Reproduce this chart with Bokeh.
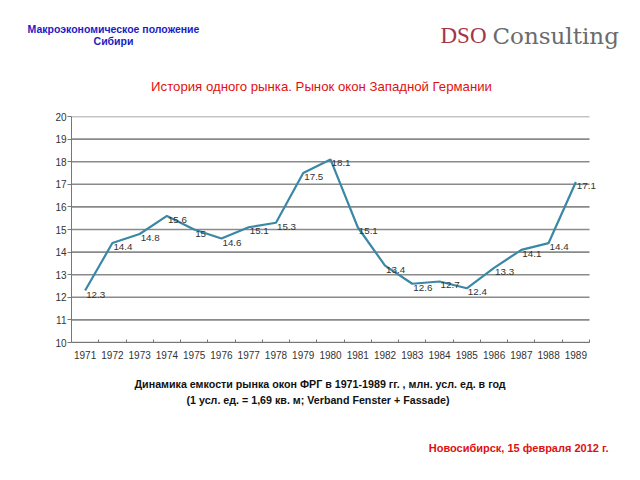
from bokeh.plotting import figure
from bokeh.layouts import column
from bokeh.models import ColumnDataSource, LabelSet, Label, FixedTicker, Range1d
from bokeh.core.properties import value
from bokeh.embed import file_html
from bokeh.resources import INLINE

years = list(range(1971, 1990))
values = [12.3, 14.4, 14.8, 15.6, 15.0, 14.6, 15.1, 15.3, 17.5, 18.1,
          15.1, 13.4, 12.6, 12.7, 12.4, 13.3, 14.1, 14.4, 17.1]
value_labels = ["12.3", "14.4", "14.8", "15.6", "15", "14.6", "15.1", "15.3", "17.5", "18.1",
                "15.1", "13.4", "12.6", "12.7", "12.4", "13.3", "14.1", "14.4", "17.1"]
y_ticks = list(range(10, 21))

W = 640
TOP_H, MAIN_H, BOT_H = 105, 260, 115


def no_align(f):
    if "frame_align" in f.properties():
        f.frame_align = False


def text_panel(h):
    f = figure(width=W, height=h, output_backend="svg", toolbar_location=None,
               x_axis_type=None, y_axis_type=None, min_border=0,
               x_range=Range1d(0, 1), y_range=Range1d(0, 1))
    f.outline_line_color = None
    f.grid.grid_line_color = None
    no_align(f)
    return f


def lab(f, text, x, y, color, size, align="left", font="Liberation Sans", style="normal"):
    f.add_layout(Label(x=x, y=y, x_units="screen", y_units="screen", text=text,
                       text_color=color, text_font_size=size, text_font=font,
                       text_font_style=style, text_align=align, text_baseline="middle"))


# ---- header ----
top = text_panel(TOP_H)
lab(top, "Макроэкономическое положение", 113, TOP_H - 28, "#1c1cc4", "10.5px", "center", style="bold")
lab(top, "Сибири", 113, TOP_H - 40, "#1c1cc4", "10.5px", "center", style="bold")
lab(top, "DSO", 440, TOP_H - 35, "#a53448", "23px", "left", font="Liberation Serif")
lab(top, "Consulting", 492, TOP_H - 35, "#6b6b6b", "23px", "left", font="DejaVu Serif")
lab(top, "История одного рынка. Рынок окон Западной Германии", 321, TOP_H - 86, "#e01010", "13.2px", "center")

# ---- main chart ----
x_start, x_last = 1970.5, 1989.5
px_per_year = (589 - 71) / (x_last - x_start)
x_end = x_last + 12 / px_per_year  # room for the last data label

p = figure(width=W, height=MAIN_H, output_backend="svg", toolbar_location=None,
           x_range=Range1d(x_start, x_end), y_range=Range1d(10, 20),
           min_border_left=71, min_border_right=39, min_border_top=11, min_border_bottom=23)
p.outline_line_color = None
no_align(p)

# horizontal grid lines, limited to the category span
p.segment(x0=[x_start] * len(y_ticks), x1=[x_last] * len(y_ticks), y0=y_ticks, y1=y_ticks,
          line_color="#8a8a8a", line_width=1.6)

src = ColumnDataSource(dict(x=years, y=values, t=value_labels))
p.line("x", "y", source=src, line_color="#3a87a6", line_width=2.2)

p.add_layout(LabelSet(x="x", y="y", text="t", source=src, x_offset=1, y_offset=-1,
                      text_baseline="top", text_align="left",
                      text_font=value("Liberation Sans"),
                      text_font_size=value("9.8px"), text_color="#333333"))

p.xaxis.ticker = FixedTicker(ticks=years, minor_ticks=[y - 0.5 for y in years] + [x_last])
p.xaxis.bounds = (x_start, x_last)
p.xaxis.major_tick_line_color = None
p.xaxis.minor_tick_in = 3
p.xaxis.minor_tick_out = 0
p.xaxis.minor_tick_line_color = "#777777"
p.xaxis.axis_line_color = "#777777"
p.xaxis.major_label_text_font = "Liberation Sans"
p.xaxis.major_label_text_font_size = "10px"
p.xaxis.major_label_text_color = "#333333"
p.xaxis.major_label_standoff = 2

p.yaxis.ticker = FixedTicker(ticks=y_ticks)
p.yaxis.minor_tick_line_color = None
p.yaxis.major_tick_in = 0
p.yaxis.major_tick_out = 4
p.yaxis.major_tick_line_color = "#777777"
p.yaxis.axis_line_color = "#777777"
p.yaxis.major_label_text_font = "Liberation Sans"
p.yaxis.major_label_text_font_size = "10px"
p.yaxis.major_label_text_color = "#333333"
p.yaxis.major_label_standoff = 1

p.xgrid.grid_line_color = None
p.ygrid.grid_line_color = None

# ---- footer ----
bot = text_panel(BOT_H)
lab(bot, "Динамика емкости рынка окон ФРГ в 1971-1989 гг. , млн. усл. ед. в год", 134, BOT_H - 18, "#111111", "10.7px", "left", style="bold")
lab(bot, "(1 усл. ед. = 1,69 кв. м; Verband Fenster + Fassade)", 186, BOT_H - 34, "#111111", "10.7px", "left", style="bold")
lab(bot, "Новосибирск, 15 февраля 2012 г.", 608, BOT_H - 82, "#e01010", "11px", "right", style="bold")

layout = column(top, p, bot, spacing=0)
open("out.html", "w").write(file_html(layout, INLINE))
